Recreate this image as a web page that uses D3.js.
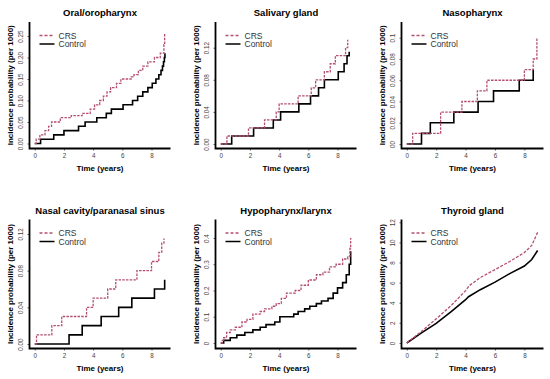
<!DOCTYPE html>
<html>
<head>
<meta charset="utf-8">
<script src="https://cdn.jsdelivr.net/npm/d3@7"></script>
<style>
  body { margin: 0; background: #fff; }
  svg { display: block; font-family: "Liberation Sans", Arial, sans-serif; }
</style>
</head>
<body>
<div id="chart"></div>
<script>
// Time axis ticks, shared by all panels
const xTicks = [0, 2, 4, 6, 8];

// Oral/oropharynx
const oralCrsT = [0, 0.1, 0.35, 0.7, 0.95, 1.15, 1.75, 2.5, 3.25, 3.8, 4.1, 4.45, 4.7, 4.95, 5.2, 5.6, 5.9, 6.6, 6.8, 7.1, 7.4, 7.75, 8.2, 8.6, 8.85, 8.9];
const oralCrsP = [0, 0.01, 0.02, 0.03, 0.04, 0.05, 0.06, 0.065, 0.07, 0.08, 0.09, 0.10, 0.11, 0.12, 0.13, 0.14, 0.15, 0.155, 0.16, 0.17, 0.18, 0.19, 0.20, 0.21, 0.23, 0.255];
const oralCtlT = [0, 0.4, 1.3, 2.0, 3.0, 3.45, 4.25, 4.9, 5.25, 6.05, 6.7, 7.05, 7.4, 7.75, 8.05, 8.3, 8.5, 8.65, 8.75, 8.82, 8.88, 8.92];
const oralCtlP = [0, 0.01, 0.02, 0.03, 0.04, 0.05, 0.06, 0.07, 0.08, 0.09, 0.10, 0.11, 0.12, 0.13, 0.14, 0.15, 0.16, 0.17, 0.18, 0.19, 0.20, 0.21];
const oralTicks = [0, 0.05, 0.10, 0.15, 0.20, 0.25];
const oralLabels = ["0.00", "0.05", "0.10", "0.15", "0.20", "0.25"];

// Salivary gland
const salCrsT = [0, 0.42, 1.9, 3.0, 3.8, 4.0, 5.3, 6.2, 6.5, 7.1, 7.5, 7.85, 8.55, 8.7];
const salCrsP = [0, 0.01, 0.02, 0.03, 0.04, 0.05, 0.06, 0.07, 0.08, 0.09, 0.10, 0.11, 0.12, 0.13];
const salCtlT = [0, 0.75, 2.25, 3.6, 4.1, 5.35, 6.15, 6.7, 7.1, 8.05, 8.45, 8.65, 8.8];
const salCtlP = [0, 0.01, 0.02, 0.03, 0.04, 0.05, 0.06, 0.07, 0.08, 0.09, 0.10, 0.11, 0.115];
const salTicks = [0, 0.04, 0.08, 0.12];
const salLabels = ["0.00", "0.04", "0.08", "0.12"];

// Nasopharynx
const nasoCrsT = [0, 0.4, 2.3, 3.75, 4.8, 5.45, 8.0, 8.6, 8.85];
const nasoCrsP = [0, 0.01, 0.03, 0.04, 0.05, 0.06, 0.07, 0.08, 0.10];
const nasoCtlT = [0, 1.0, 1.6, 3.2, 4.85, 5.9, 7.65, 8.6];
const nasoCtlP = [0, 0.01, 0.02, 0.03, 0.04, 0.05, 0.06, 0.07];
const nasoTicks = [0, 0.02, 0.04, 0.06, 0.08, 0.10];
const nasoLabels = ["00", "0.02", "0.04", "0.06", "0.08", "0.1"];

// Nasal cavity/paranasal sinus
const nasalCrsT = [0, 0.12, 1.17, 1.85, 3.55, 4.0, 5.0, 5.55, 7.0, 8.0, 8.5, 8.7, 8.85];
const nasalCrsP = [0, 0.01, 0.02, 0.03, 0.04, 0.05, 0.06, 0.07, 0.08, 0.09, 0.10, 0.11, 0.115];
const nasalCtlT = [0, 2.35, 3.25, 4.55, 5.75, 6.65, 8.2, 8.9];
const nasalCtlP = [0, 0.01, 0.02, 0.03, 0.04, 0.05, 0.06, 0.07];
const nasalTicks = [0, 0.04, 0.08, 0.12];
const nasalLabels = ["0.00", "0.04", "0.08", "0.12"];

// Hypopharynx/larynx
const hypoCrsT = [0, 0.1, 0.2, 0.4, 0.65, 1.0, 1.45, 1.8, 2.2, 2.7, 3.0, 3.5, 3.8, 4.15, 4.5, 5.1, 5.5, 6.0, 6.55, 7.0, 7.45, 7.9, 8.35, 8.7, 8.85, 8.9];
const hypoCrsP = [0, 0.01, 0.02, 0.04, 0.05, 0.06, 0.08, 0.09, 0.11, 0.12, 0.13, 0.14, 0.15, 0.17, 0.19, 0.20, 0.22, 0.24, 0.26, 0.27, 0.29, 0.30, 0.32, 0.33, 0.36, 0.40];
const hypoCtlT = [0, 0.2, 0.65, 1.1, 1.65, 2.2, 2.7, 3.1, 3.7, 4.05, 5.0, 5.3, 5.75, 6.1, 6.55, 6.9, 7.35, 7.7, 8.0, 8.35, 8.6, 8.8, 8.9];
const hypoCtlP = [0, 0.01, 0.02, 0.03, 0.04, 0.05, 0.06, 0.07, 0.08, 0.10, 0.11, 0.12, 0.13, 0.14, 0.15, 0.16, 0.17, 0.19, 0.21, 0.23, 0.26, 0.30, 0.35];
const hypoTicks = [0, 0.1, 0.2, 0.3, 0.4];
const hypoLabels = ["0", "0.1", "0.2", "0.3", "0.4"];

// Thyroid gland
const thyCrsT = [0, 1, 2, 3, 4, 4.25, 5, 6, 7, 8, 8.5, 8.9];
const thyCrsP = [0, 1.15, 2.4, 3.7, 5.2, 5.7, 6.5, 7.3, 8.1, 9.0, 9.7, 11.0];
const thyCtlT = [0, 1, 2, 3, 4, 4.2, 5, 6, 7, 8, 8.5, 8.9];
const thyCtlP = [0, 1.0, 1.95, 3.1, 4.3, 4.6, 5.3, 6.05, 6.9, 7.65, 8.3, 9.2];
const thyTicks = [0, 2, 4, 6, 8, 10, 12];
const thyLabels = ["0", "2", "4", "6", "8", "10", "12"];

const crsColor = "#b4506e";
const width = 550, height = 379;

const colLeft = [29.5, 215.5, 401.5];
const colRight = [170.5, 356.5, 543.5];
const rowTop = [22, 219.5];
const rowBottom = [148.5, 348.5];

const panels = [
  {title: "Oral/oropharynx", col: 0, row: 0, y: [-0.0116, 0.2826], ticks: oralTicks, labels: oralLabels,
   crs: [oralCrsT, oralCrsP], ctl: [oralCtlT, oralCtlP], step: true},
  {title: "Salivary gland", col: 1, row: 0, y: [-0.0056, 0.152], ticks: salTicks, labels: salLabels,
   crs: [salCrsT, salCrsP], ctl: [salCtlT, salCtlP], step: true},
  {title: "Nasopharynx", col: 2, row: 0, y: [-0.0042, 0.1148], ticks: nasoTicks, labels: nasoLabels,
   crs: [nasoCrsT, nasoCrsP], ctl: [nasoCtlT, nasoCtlP], step: true},
  {title: "Nasal cavity/paranasal sinus", col: 0, row: 1, y: [-0.0049, 0.1358], ticks: nasalTicks, labels: nasalLabels,
   crs: [nasalCrsT, nasalCrsP], ctl: [nasalCtlT, nasalCtlP], step: true},
  {title: "Hypopharynx/larynx", col: 1, row: 1, y: [-0.021, 0.4705], ticks: hypoTicks, labels: hypoLabels,
   crs: [hypoCrsT, hypoCrsP], ctl: [hypoCtlT, hypoCtlP], step: true},
  {title: "Thyroid gland", col: 2, row: 1, y: [-0.55, 12.28], ticks: thyTicks, labels: thyLabels,
   crs: [thyCrsT, thyCrsP], ctl: [thyCtlT, thyCtlP], step: false}
];

const svg = d3.select("#chart").append("svg")
    .attr("width", width)
    .attr("height", height);

svg.append("rect").attr("width", width).attr("height", height).attr("fill", "#fff");

function zip(arr) {
  return arr[0].map((t, i) => ({t: t, p: arr[1][i]}));
}

panels.forEach(p => {
  const left = colLeft[p.col], right = colRight[p.col];
  const top = rowTop[p.row], bottom = rowBottom[p.row];

  const x = d3.scaleLinear().domain([-0.36, 9.3]).range([left, right]);
  const y = d3.scaleLinear().domain(p.y).range([bottom, top]);

  const g = svg.append("g");

  // x axis
  const xa = g.append("g")
      .attr("transform", "translate(0," + bottom + ")")
      .call(d3.axisBottom(x).tickValues(xTicks).tickSize(2).tickFormat(d3.format("d")));
  xa.select(".domain").remove();
  xa.selectAll("line").attr("stroke", "#666");
  xa.selectAll("text")
      .attr("y", 6.7).attr("dy", 0)
      .attr("dominant-baseline", "central")
      .attr("font-size", 6.3).attr("fill", "#444")
      .attr("font-family", "'Liberation Sans', Arial, sans-serif");

  // y axis
  const ya = g.append("g")
      .attr("transform", "translate(" + left + ",0)")
      .call(d3.axisLeft(y).tickValues(p.ticks).tickSize(2).tickFormat((d, i) => p.labels[i]));
  ya.select(".domain").remove();
  ya.selectAll("line").attr("stroke", "#666");
  ya.selectAll("text")
      .attr("x", null).attr("dy", null)
      .attr("transform", "translate(-8.6,0) rotate(-90)")
      .attr("text-anchor", "middle")
      .attr("dominant-baseline", "central")
      .attr("font-size", 6.3).attr("fill", "#444")
      .attr("font-family", "'Liberation Sans', Arial, sans-serif");

  // L-shaped box
  g.append("path")
      .attr("d", "M" + left + "," + top + "V" + bottom + "H" + right)
      .attr("fill", "none")
      .attr("stroke", "#000")
      .attr("stroke-width", 1.8);

  const line = d3.line()
      .x(d => x(d.t))
      .y(d => y(d.p))
      .curve(p.step ? d3.curveStepAfter : d3.curveLinear);

  g.append("path")
      .datum(zip(p.ctl))
      .attr("fill", "none")
      .attr("stroke", "#000")
      .attr("stroke-width", 1.6)
      .attr("d", line);

  g.append("path")
      .datum(zip(p.crs))
      .attr("fill", "none")
      .attr("stroke", crsColor)
      .attr("stroke-width", 1.3)
      .attr("stroke-dasharray", p.step ? "2.5,1.2" : "3,1.5")
      .attr("d", line);

  // legend
  const lx = left + 10, ly = top + 13.5;
  g.append("line")
      .attr("x1", lx).attr("x2", lx + 15).attr("y1", ly).attr("y2", ly)
      .attr("stroke", crsColor).attr("stroke-width", 1.3).attr("stroke-dasharray", "3,2");
  g.append("line")
      .attr("x1", lx).attr("x2", lx + 15).attr("y1", ly + 8.5).attr("y2", ly + 8.5)
      .attr("stroke", "#000").attr("stroke-width", 1.5);
  g.append("text")
      .attr("x", lx + 19).attr("y", ly)
      .attr("dominant-baseline", "central")
      .attr("font-size", 8.5).attr("fill", "#333")
      .text("CRS");
  g.append("text")
      .attr("x", lx + 19).attr("y", ly + 8.5)
      .attr("dominant-baseline", "central")
      .attr("font-size", 8.5).attr("fill", "#333")
      .text("Control");

  // titles and axis labels
  const cx = (left + right) / 2;
  g.append("text")
      .attr("x", cx).attr("y", top - 9.3)
      .attr("text-anchor", "middle")
      .attr("dominant-baseline", "central")
      .attr("font-size", 9.5).attr("font-weight", "bold")
      .text(p.title);

  g.append("text")
      .attr("x", cx).attr("y", bottom + 19.7)
      .attr("text-anchor", "middle")
      .attr("dominant-baseline", "central")
      .attr("font-size", 8).attr("font-weight", "bold")
      .text("Time (years)");

  g.append("text")
      .attr("transform", "translate(" + (left - 19.5) + "," + ((top + bottom) / 2) + ") rotate(-90)")
      .attr("text-anchor", "middle")
      .attr("dominant-baseline", "central")
      .attr("font-size", 8).attr("font-weight", "bold")
      .text("Incidence probability (per 1000)");
});
</script>
</body>
</html>
